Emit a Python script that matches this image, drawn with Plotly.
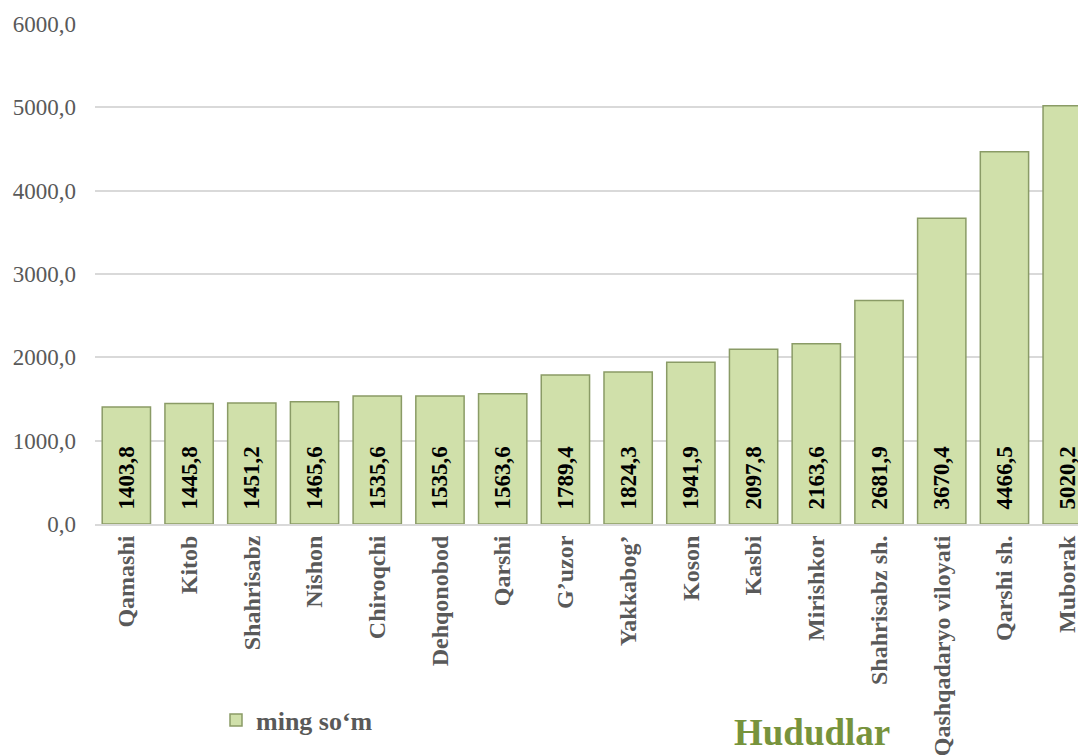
import plotly.graph_objects as go

categories = ["Qamashi", "Kitob", "Shahrisabz", "Nishon", "Chiroqchi", "Dehqonobod",
              "Qarshi", "G\u2019uzor", "Yakkabog\u2019", "Koson", "Kasbi", "Mirishkor",
              "Shahrisabz sh.", "Qashqadaryo viloyati", "Qarshi sh.", "Muborak"]
values = [1403.8, 1445.8, 1451.2, 1465.6, 1535.6, 1535.6, 1563.6, 1789.4, 1824.3,
          1941.9, 2097.8, 2163.6, 2681.9, 3670.4, 4466.5, 5020.2]
series_name = "ming so\u2018m"
axis_title = "Hududlar"
y_ticks = [0, 1000, 2000, 3000, 4000, 5000, 6000]

labels = ["\u00a0\u00a0" + f"{v:.1f}".replace(".", ",") for v in values]
FONT = "Liberation Serif, Times New Roman, serif"

# the page body has an 8px margin, so the figure is sized to fit the window
W, H = 1078, 748

fig = go.Figure()
fig.add_trace(go.Bar(
    x=categories, y=values, name=series_name,
    marker=dict(color="#D0E0AA", line=dict(color="#8A9B66", width=1.5)),
    width=0.77,
    text=labels, textposition="inside", insidetextanchor="start", textangle=-90,
    textfont=dict(family=FONT, size=23, color="#000000", weight="bold"),
    cliponaxis=False,
))

fig.update_layout(
    width=W, height=H,
    margin=dict(l=87, r=0, t=16, b=232),
    paper_bgcolor="white", plot_bgcolor="white",
    separators=", ",
    showlegend=True,
    legend=dict(orientation="h", xref="container", yref="container",
                x=208 / W, y=1 - 712 / H, xanchor="left", yanchor="middle",
                font=dict(family=FONT, size=26, color="#595959", weight="bold"),
                itemwidth=30),
    xaxis=dict(
        range=[-0.5, 15.3], tickangle=-90, automargin=False,
        tickfont=dict(family=FONT, size=24, color="#595959", weight="bold"),
        showgrid=False, showline=True, linecolor="#D9D9D9", linewidth=2,
        ticks="", ticklabelstandoff=0,
    ),
    yaxis=dict(
        range=[0, 6000], tickvals=y_ticks, tickformat=".1f", automargin=False,
        tickfont=dict(family=FONT, size=23, color="#595959"),
        showgrid=True, gridcolor="#D9D9D9", gridwidth=1.5, zeroline=False,
        showline=False, ticks="", ticklabelstandoff=18,
    ),
    annotations=[dict(text=axis_title, xref="paper", yref="paper",
                      x=(812 - 95) / 991, y=-(732 - 524) / 500,
                      xanchor="center", yanchor="middle", showarrow=False,
                      font=dict(family=FONT, size=37, color="#77933C", weight="bold"))],
)

fig.write_html("out.html")
